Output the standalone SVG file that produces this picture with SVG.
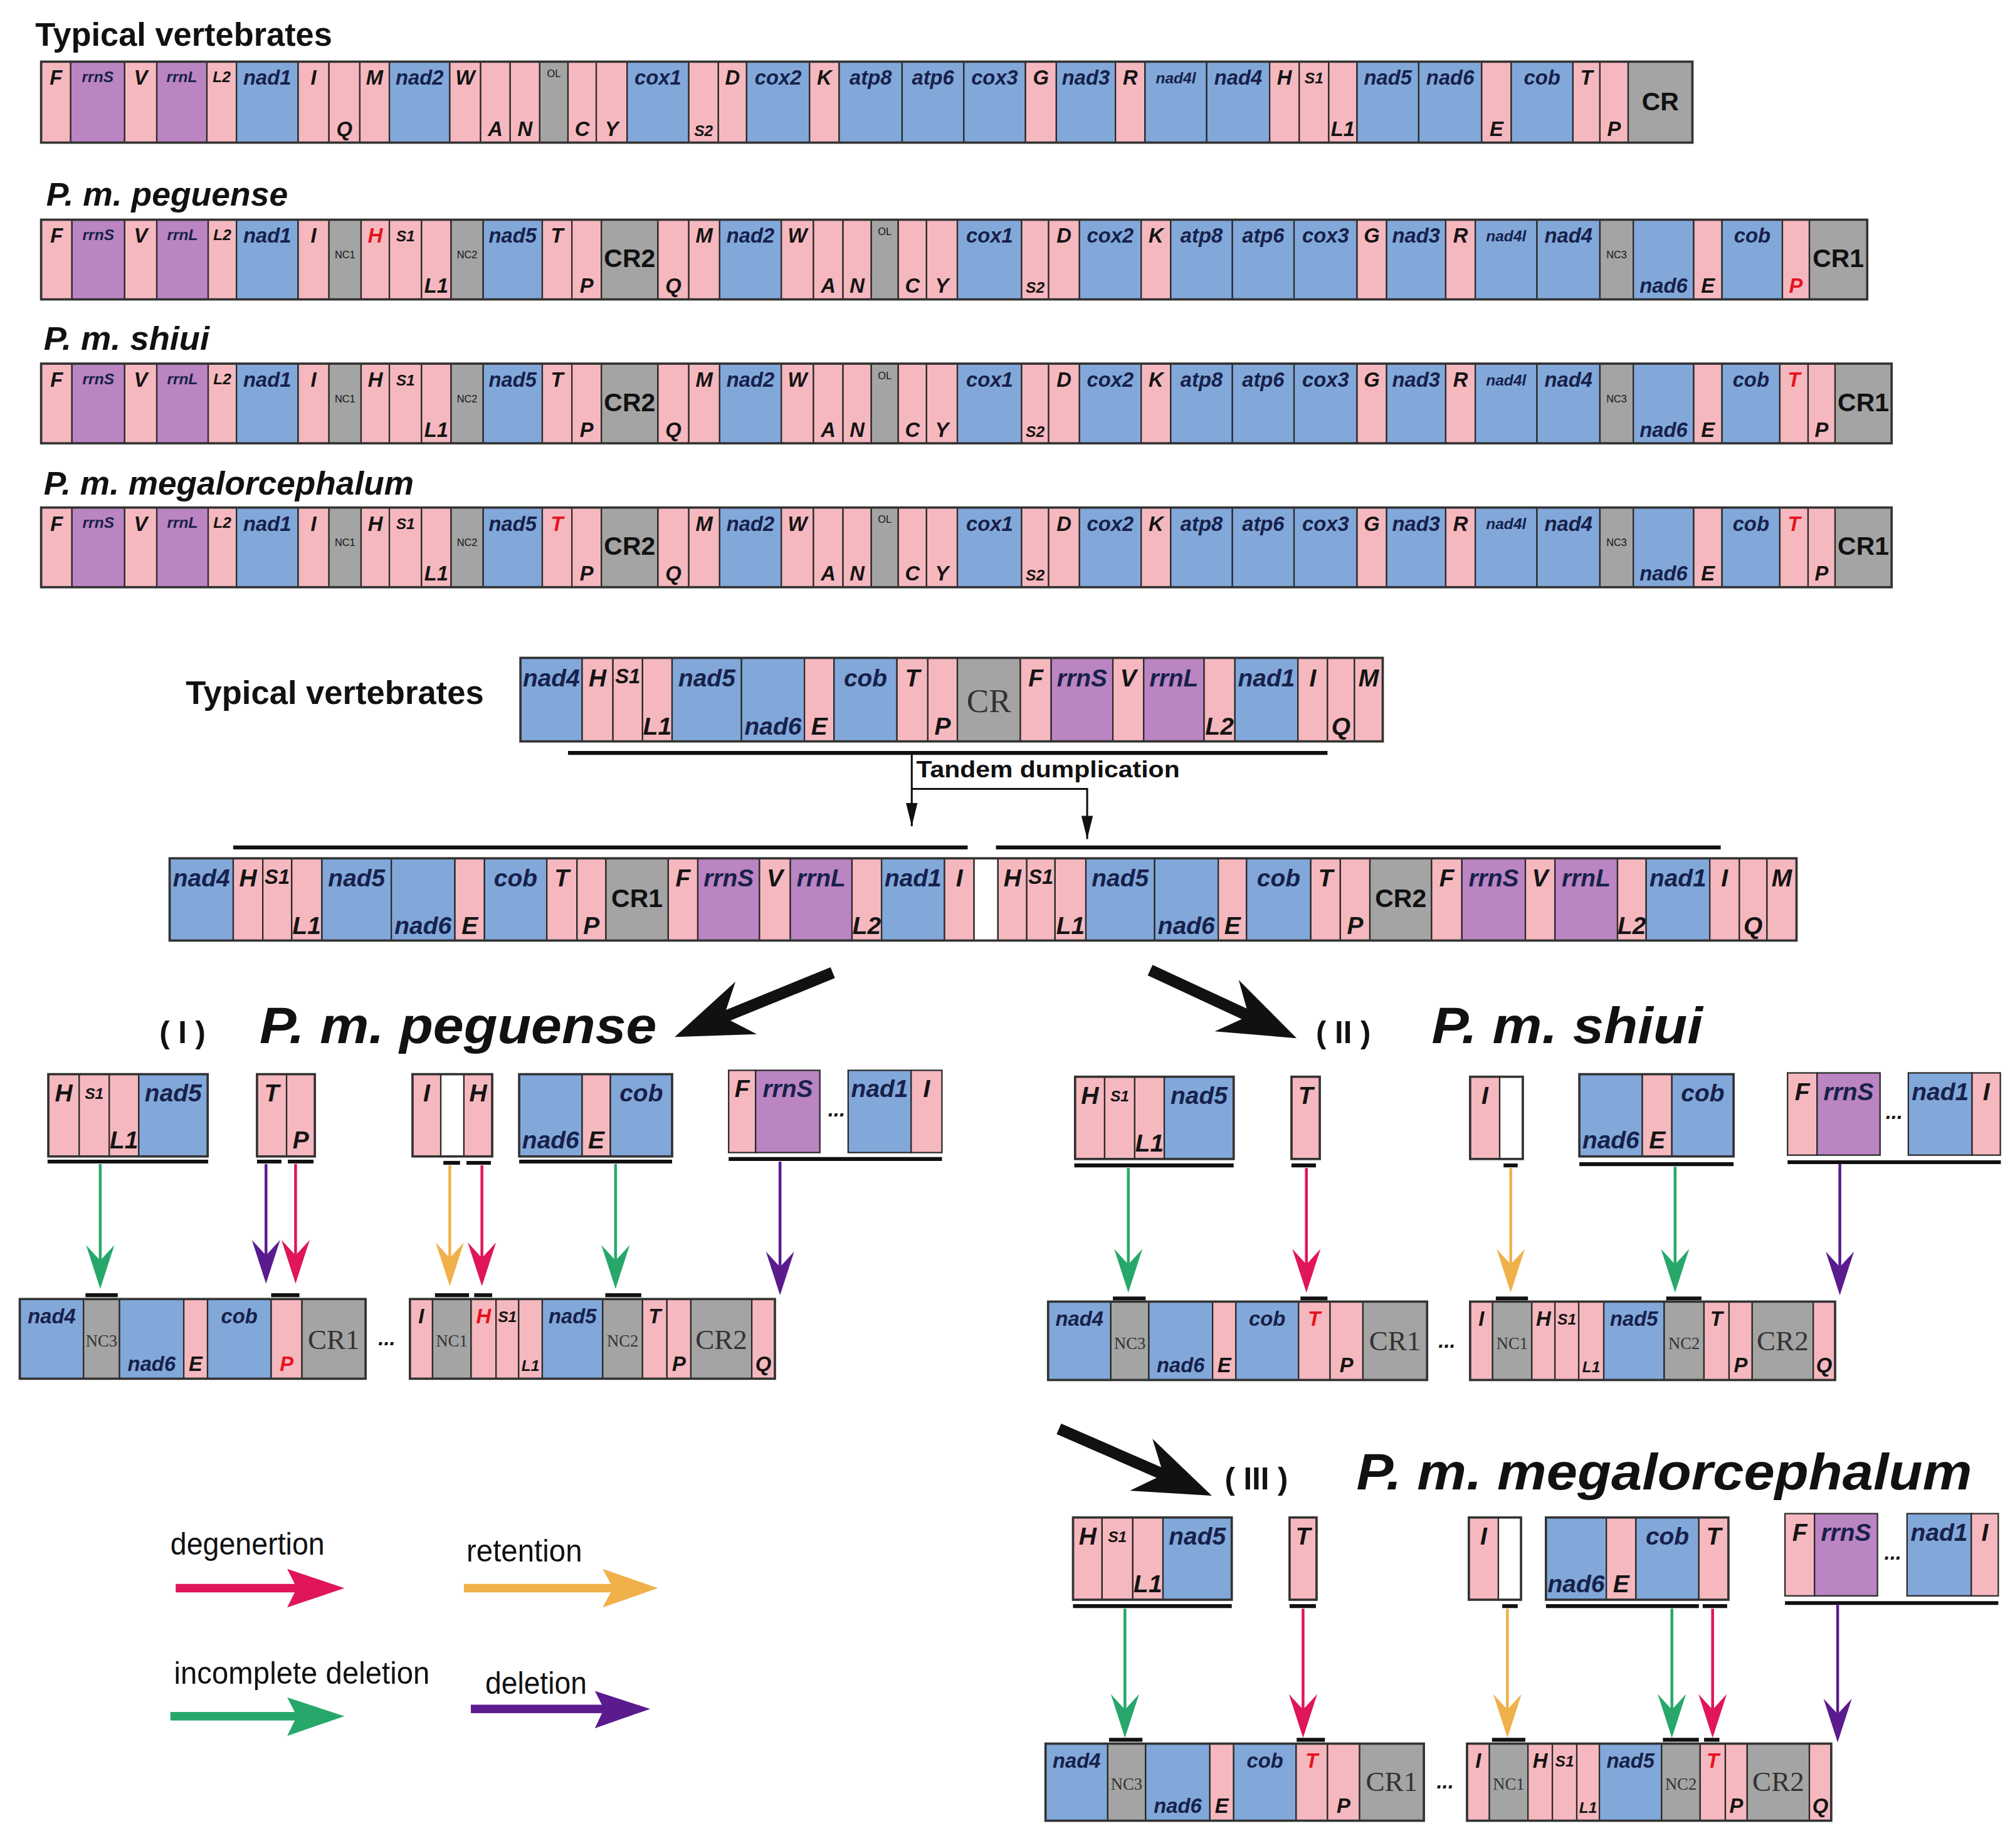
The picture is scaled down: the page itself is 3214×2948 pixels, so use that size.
<svg xmlns="http://www.w3.org/2000/svg" width="3214" height="2948" viewBox="0 0 3214 2948">
<style>
rect{stroke:#2a2a2a;stroke-width:1.1}
.p{fill:#f6b8bf}.b{fill:#82a8da}.v{fill:#bb84c3}.g{fill:#a4a4a4}.w{fill:#fff}
.o{fill:none;stroke:#333;stroke-width:1.8}
text{font-family:"Liberation Sans",Arial,sans-serif}
.t{font-size:16px;font-weight:bold;font-style:italic;fill:#141414;text-anchor:middle}
.gn{fill:#17214a}
.sm{font-size:12px}
.tn{font-size:8px;font-style:normal;font-weight:normal}
.r{fill:#e5141e}
.k{font-size:20px;font-weight:bold;font-style:normal;fill:#111;text-anchor:middle}
.sf{font-family:"Liberation Serif","Times New Roman",serif;font-weight:normal;font-style:normal;fill:#333;text-anchor:middle}
.big{font-size:19px}
.hd{font-weight:bold;fill:#111}
.lg{font-size:24px;fill:#111}
.ul{stroke:#111;stroke-width:3}
.bk{stroke:#111;stroke-width:1.5;fill:none}
.ag{stroke:#27a86a;stroke-width:2.2}
.ar{stroke:#e0155a;stroke-width:2.2}
.ap{stroke:#5b1b8e;stroke-width:2.2}
.ao{stroke:#f0b04a;stroke-width:2.2}
</style>
<defs>
<marker id="mg" viewBox="-26 -13 38 26" markerWidth="38" markerHeight="26" refX="0" refY="0" orient="auto" markerUnits="userSpaceOnUse"><path d="M10,0 L-24,-11 L-12,0 L-24,11 Z" fill="#27a86a"/></marker>
<marker id="mr" viewBox="-26 -13 38 26" markerWidth="38" markerHeight="26" refX="0" refY="0" orient="auto" markerUnits="userSpaceOnUse"><path d="M10,0 L-24,-11 L-12,0 L-24,11 Z" fill="#e0155a"/></marker>
<marker id="mp" viewBox="-26 -13 38 26" markerWidth="38" markerHeight="26" refX="0" refY="0" orient="auto" markerUnits="userSpaceOnUse"><path d="M10,0 L-24,-11 L-12,0 L-24,11 Z" fill="#5b1b8e"/></marker>
<marker id="mo" viewBox="-26 -13 38 26" markerWidth="38" markerHeight="26" refX="0" refY="0" orient="auto" markerUnits="userSpaceOnUse"><path d="M10,0 L-24,-11 L-12,0 L-24,11 Z" fill="#f0b04a"/></marker>
<marker id="mk" viewBox="-20 -6 22 12" markerWidth="22" markerHeight="12" refX="0" refY="0" orient="auto" markerUnits="userSpaceOnUse"><path d="M0,0 L-18,-4.5 L-18,4.5 Z" fill="#111"/></marker>
</defs>
<rect x="0" y="0" width="3214" height="2948" style="fill:#fff;stroke:none"/>
<g transform="scale(2.04974)">

<!-- titles -->
<g id="titles">
<text class="hd" x="27.5" y="35.8" font-size="25" textLength="231" lengthAdjust="spacingAndGlyphs">Typical vertebrates</text>
<text class="hd" x="36" y="160" font-size="25" font-style="italic" textLength="188" lengthAdjust="spacingAndGlyphs">P. m. peguense</text>
<text class="hd" x="34" y="272" font-size="25" font-style="italic" textLength="129" lengthAdjust="spacingAndGlyphs">P. m. shiui</text>
<text class="hd" x="34" y="385" font-size="25" font-style="italic" textLength="288" lengthAdjust="spacingAndGlyphs">P. m. megalorcephalum</text>
<text class="hd" x="144.5" y="548" font-size="25" textLength="232" lengthAdjust="spacingAndGlyphs">Typical vertebrates</text>
</g>

<!-- Row 1 typical -->
<g id="row1" transform="translate(0,48)">
<rect class="p" x="32" width="23" height="63"/><text class="t" x="43.5" y="18">F</text>
<rect class="v" x="55" width="42" height="63"/><text class="t sm gn" x="76" y="16">rrnS</text>
<rect class="p" x="97" width="25" height="63"/><text class="t" x="109.5" y="18">V</text>
<rect class="v" x="122" width="39" height="63"/><text class="t sm gn" x="141.5" y="16">rrnL</text>
<rect class="p" x="161" width="23" height="63"/><text class="t sm" x="172.5" y="16">L2</text>
<rect class="b" x="184" width="48" height="63"/><text class="t gn" x="208" y="18">nad1</text>
<rect class="p" x="232" width="24" height="63"/><text class="t" x="244" y="18">I</text>
<rect class="p" x="256" width="24" height="63"/><text class="t" x="268" y="58">Q</text>
<rect class="p" x="280" width="23" height="63"/><text class="t" x="291.5" y="18">M</text>
<rect class="b" x="303" width="47" height="63"/><text class="t gn" x="326.5" y="18">nad2</text>
<rect class="p" x="350" width="24" height="63"/><text class="t" x="362" y="18">W</text>
<rect class="p" x="374" width="23" height="63"/><text class="t" x="385.5" y="58">A</text>
<rect class="p" x="397" width="23" height="63"/><text class="t" x="408.5" y="58">N</text>
<rect class="g" x="420" width="22" height="63"/><text class="t tn" x="431" y="12">OL</text>
<rect class="p" x="442" width="22" height="63"/><text class="t" x="453" y="58">C</text>
<rect class="p" x="464" width="24" height="63"/><text class="t" x="476" y="58">Y</text>
<rect class="b" x="488" width="48" height="63"/><text class="t gn" x="512" y="18">cox1</text>
<rect class="p" x="536" width="23" height="63"/><text class="t sm" x="547.5" y="58">S2</text>
<rect class="p" x="559" width="22" height="63"/><text class="t" x="570" y="18">D</text>
<rect class="b" x="581" width="49" height="63"/><text class="t gn" x="605.5" y="18">cox2</text>
<rect class="p" x="630" width="23" height="63"/><text class="t" x="641.5" y="18">K</text>
<rect class="b" x="653" width="49" height="63"/><text class="t gn" x="677.5" y="18">atp8</text>
<rect class="b" x="702" width="48" height="63"/><text class="t gn" x="726" y="18">atp6</text>
<rect class="b" x="750" width="48" height="63"/><text class="t gn" x="774" y="18">cox3</text>
<rect class="p" x="798" width="24" height="63"/><text class="t" x="810" y="18">G</text>
<rect class="b" x="822" width="46" height="63"/><text class="t gn" x="845" y="18">nad3</text>
<rect class="p" x="868" width="23" height="63"/><text class="t" x="879.5" y="18">R</text>
<rect class="b" x="891" width="48" height="63"/><text class="t gn sm" x="915" y="17">nad4l</text>
<rect class="b" x="939" width="49" height="63"/><text class="t gn" x="963.5" y="18">nad4</text>
<rect class="p" x="988" width="23" height="63"/><text class="t" x="999.5" y="18">H</text>
<rect class="p" x="1011" width="23" height="63"/><text class="t sm" x="1022.5" y="17">S1</text>
<rect class="p" x="1034" width="22" height="63"/><text class="t" x="1045" y="58">L1</text>
<rect class="b" x="1056" width="48" height="63"/><text class="t gn" x="1080" y="18">nad5</text>
<rect class="b" x="1104" width="49" height="63"/><text class="t gn" x="1128.5" y="18">nad6</text>
<rect class="p" x="1153" width="23" height="63"/><text class="t" x="1164.5" y="58">E</text>
<rect class="b" x="1176" width="48" height="63"/><text class="t gn" x="1200" y="18">cob</text>
<rect class="p" x="1224" width="21" height="63"/><text class="t" x="1234.5" y="18">T</text>
<rect class="p" x="1245" width="22" height="63"/><text class="t" x="1256" y="58">P</text>
<rect class="g" x="1267" width="50" height="63"/><text class="k" x="1292" y="38">CR</text>
<rect class="o" x="32" width="1285" height="63"/>
</g>

<!-- Row 2 peguense -->
<g id="row2" transform="translate(0,171)">
<rect class="p" x="32" width="24" height="62"/><text class="t" x="44" y="18">F</text>
<rect class="v" x="56" width="41" height="62"/><text class="t sm gn" x="76.5" y="16">rrnS</text>
<rect class="p" x="97" width="25" height="62"/><text class="t" x="109.5" y="18">V</text>
<rect class="v" x="122" width="40" height="62"/><text class="t sm gn" x="142" y="16">rrnL</text>
<rect class="p" x="162" width="22" height="62"/><text class="t sm" x="173" y="16">L2</text>
<rect class="b" x="184" width="48" height="62"/><text class="t gn" x="208" y="18">nad1</text>
<rect class="p" x="232" width="24" height="62"/><text class="t" x="244" y="18">I</text>
<rect class="g" x="256" width="25" height="62"/><text class="t tn" x="268.5" y="30">NC1</text>
<rect class="p" x="281" width="22" height="62"/><text class="t r" x="292" y="18">H</text>
<rect class="p" x="303" width="25" height="62"/><text class="t sm" x="315.5" y="17">S1</text>
<rect class="p" x="328" width="23" height="62"/><text class="t" x="339.5" y="57">L1</text>
<rect class="g" x="351" width="25" height="62"/><text class="t tn" x="363.5" y="30">NC2</text>
<rect class="b" x="376" width="46" height="62"/><text class="t gn" x="399" y="18">nad5</text>
<rect class="p" x="422" width="23" height="62"/><text class="t" x="433.5" y="18">T</text>
<rect class="p" x="445" width="23" height="62"/><text class="t" x="456.5" y="57">P</text>
<rect class="g" x="468" width="44" height="62"/><text class="k" x="490" y="37">CR2</text>
<rect class="p" x="512" width="24" height="62"/><text class="t" x="524" y="57">Q</text>
<rect class="p" x="536" width="24" height="62"/><text class="t" x="548" y="18">M</text>
<rect class="b" x="560" width="48" height="62"/><text class="t gn" x="584" y="18">nad2</text>
<rect class="p" x="608" width="25" height="62"/><text class="t" x="620.5" y="18">W</text>
<rect class="p" x="633" width="23" height="62"/><text class="t" x="644.5" y="57">A</text>
<rect class="p" x="656" width="22" height="62"/><text class="t" x="667" y="57">N</text>
<rect class="g" x="678" width="21" height="62"/><text class="t tn" x="688.5" y="12">OL</text>
<rect class="p" x="699" width="22" height="62"/><text class="t" x="710" y="57">C</text>
<rect class="p" x="721" width="24" height="62"/><text class="t" x="733" y="57">Y</text>
<rect class="b" x="745" width="50" height="62"/><text class="t gn" x="770" y="18">cox1</text>
<rect class="p" x="795" width="21" height="62"/><text class="t sm" x="805.5" y="57">S2</text>
<rect class="p" x="816" width="24" height="62"/><text class="t" x="828" y="18">D</text>
<rect class="b" x="840" width="48" height="62"/><text class="t gn" x="864" y="18">cox2</text>
<rect class="p" x="888" width="23" height="62"/><text class="t" x="899.5" y="18">K</text>
<rect class="b" x="911" width="48" height="62"/><text class="t gn" x="935" y="18">atp8</text>
<rect class="b" x="959" width="48" height="62"/><text class="t gn" x="983" y="18">atp6</text>
<rect class="b" x="1007" width="49" height="62"/><text class="t gn" x="1031.5" y="18">cox3</text>
<rect class="p" x="1056" width="23" height="62"/><text class="t" x="1067.5" y="18">G</text>
<rect class="b" x="1079" width="46" height="62"/><text class="t gn" x="1102" y="18">nad3</text>
<rect class="p" x="1125" width="23" height="62"/><text class="t" x="1136.5" y="18">R</text>
<rect class="b" x="1148" width="48" height="62"/><text class="t gn sm" x="1172" y="17">nad4l</text>
<rect class="b" x="1196" width="49" height="62"/><text class="t gn" x="1220.5" y="18">nad4</text>
<rect class="g" x="1245" width="26" height="62"/><text class="t tn" x="1258" y="30">NC3</text>
<rect class="b" x="1271" width="47" height="62"/><text class="t gn" x="1294.5" y="57">nad6</text>
<rect class="p" x="1318" width="22" height="62"/><text class="t" x="1329" y="57">E</text>
<rect class="b" x="1340" width="47" height="62"/><text class="t gn" x="1363.5" y="18">cob</text>
<rect class="p" x="1387" width="21" height="62"/><text class="t r" x="1397.5" y="57">P</text>
<rect class="g" x="1408" width="45" height="62"/><text class="k" x="1430.5" y="37">CR1</text>
<rect class="o" x="32" width="1421" height="62"/>
</g>

<!-- Row 3 shiui -->
<g id="row3" transform="translate(0,283)">
<rect class="p" x="32" width="24" height="62"/><text class="t" x="44" y="18">F</text>
<rect class="v" x="56" width="41" height="62"/><text class="t sm gn" x="76.5" y="16">rrnS</text>
<rect class="p" x="97" width="25" height="62"/><text class="t" x="109.5" y="18">V</text>
<rect class="v" x="122" width="40" height="62"/><text class="t sm gn" x="142" y="16">rrnL</text>
<rect class="p" x="162" width="22" height="62"/><text class="t sm" x="173" y="16">L2</text>
<rect class="b" x="184" width="48" height="62"/><text class="t gn" x="208" y="18">nad1</text>
<rect class="p" x="232" width="24" height="62"/><text class="t" x="244" y="18">I</text>
<rect class="g" x="256" width="25" height="62"/><text class="t tn" x="268.5" y="30">NC1</text>
<rect class="p" x="281" width="22" height="62"/><text class="t" x="292" y="18">H</text>
<rect class="p" x="303" width="25" height="62"/><text class="t sm" x="315.5" y="17">S1</text>
<rect class="p" x="328" width="23" height="62"/><text class="t" x="339.5" y="57">L1</text>
<rect class="g" x="351" width="25" height="62"/><text class="t tn" x="363.5" y="30">NC2</text>
<rect class="b" x="376" width="46" height="62"/><text class="t gn" x="399" y="18">nad5</text>
<rect class="p" x="422" width="23" height="62"/><text class="t" x="433.5" y="18">T</text>
<rect class="p" x="445" width="23" height="62"/><text class="t" x="456.5" y="57">P</text>
<rect class="g" x="468" width="44" height="62"/><text class="k" x="490" y="37">CR2</text>
<rect class="p" x="512" width="24" height="62"/><text class="t" x="524" y="57">Q</text>
<rect class="p" x="536" width="24" height="62"/><text class="t" x="548" y="18">M</text>
<rect class="b" x="560" width="48" height="62"/><text class="t gn" x="584" y="18">nad2</text>
<rect class="p" x="608" width="25" height="62"/><text class="t" x="620.5" y="18">W</text>
<rect class="p" x="633" width="23" height="62"/><text class="t" x="644.5" y="57">A</text>
<rect class="p" x="656" width="22" height="62"/><text class="t" x="667" y="57">N</text>
<rect class="g" x="678" width="21" height="62"/><text class="t tn" x="688.5" y="12">OL</text>
<rect class="p" x="699" width="22" height="62"/><text class="t" x="710" y="57">C</text>
<rect class="p" x="721" width="24" height="62"/><text class="t" x="733" y="57">Y</text>
<rect class="b" x="745" width="50" height="62"/><text class="t gn" x="770" y="18">cox1</text>
<rect class="p" x="795" width="21" height="62"/><text class="t sm" x="805.5" y="57">S2</text>
<rect class="p" x="816" width="24" height="62"/><text class="t" x="828" y="18">D</text>
<rect class="b" x="840" width="48" height="62"/><text class="t gn" x="864" y="18">cox2</text>
<rect class="p" x="888" width="23" height="62"/><text class="t" x="899.5" y="18">K</text>
<rect class="b" x="911" width="48" height="62"/><text class="t gn" x="935" y="18">atp8</text>
<rect class="b" x="959" width="48" height="62"/><text class="t gn" x="983" y="18">atp6</text>
<rect class="b" x="1007" width="49" height="62"/><text class="t gn" x="1031.5" y="18">cox3</text>
<rect class="p" x="1056" width="23" height="62"/><text class="t" x="1067.5" y="18">G</text>
<rect class="b" x="1079" width="46" height="62"/><text class="t gn" x="1102" y="18">nad3</text>
<rect class="p" x="1125" width="23" height="62"/><text class="t" x="1136.5" y="18">R</text>
<rect class="b" x="1148" width="48" height="62"/><text class="t gn sm" x="1172" y="17">nad4l</text>
<rect class="b" x="1196" width="49" height="62"/><text class="t gn" x="1220.5" y="18">nad4</text>
<rect class="g" x="1245" width="26" height="62"/><text class="t tn" x="1258" y="30">NC3</text>
<rect class="b" x="1271" width="47" height="62"/><text class="t gn" x="1294.5" y="57">nad6</text>
<rect class="p" x="1318" width="22" height="62"/><text class="t" x="1329" y="57">E</text>
<rect class="b" x="1340" width="45" height="62"/><text class="t gn" x="1362.5" y="18">cob</text>
<rect class="p" x="1385" width="22" height="62"/><text class="t r" x="1396" y="18">T</text>
<rect class="p" x="1407" width="21" height="62"/><text class="t" x="1417.5" y="57">P</text>
<rect class="g" x="1428" width="44" height="62"/><text class="k" x="1450" y="37">CR1</text>
<rect class="o" x="32" width="1440" height="62"/>
</g>

<!-- Row 4 megalorcephalum -->
<g id="row4" transform="translate(0,395)">
<rect class="p" x="32" width="24" height="62"/><text class="t" x="44" y="18">F</text>
<rect class="v" x="56" width="41" height="62"/><text class="t sm gn" x="76.5" y="16">rrnS</text>
<rect class="p" x="97" width="25" height="62"/><text class="t" x="109.5" y="18">V</text>
<rect class="v" x="122" width="40" height="62"/><text class="t sm gn" x="142" y="16">rrnL</text>
<rect class="p" x="162" width="22" height="62"/><text class="t sm" x="173" y="16">L2</text>
<rect class="b" x="184" width="48" height="62"/><text class="t gn" x="208" y="18">nad1</text>
<rect class="p" x="232" width="24" height="62"/><text class="t" x="244" y="18">I</text>
<rect class="g" x="256" width="25" height="62"/><text class="t tn" x="268.5" y="30">NC1</text>
<rect class="p" x="281" width="22" height="62"/><text class="t" x="292" y="18">H</text>
<rect class="p" x="303" width="25" height="62"/><text class="t sm" x="315.5" y="17">S1</text>
<rect class="p" x="328" width="23" height="62"/><text class="t" x="339.5" y="57">L1</text>
<rect class="g" x="351" width="25" height="62"/><text class="t tn" x="363.5" y="30">NC2</text>
<rect class="b" x="376" width="46" height="62"/><text class="t gn" x="399" y="18">nad5</text>
<rect class="p" x="422" width="23" height="62"/><text class="t r" x="433.5" y="18">T</text>
<rect class="p" x="445" width="23" height="62"/><text class="t" x="456.5" y="57">P</text>
<rect class="g" x="468" width="44" height="62"/><text class="k" x="490" y="37">CR2</text>
<rect class="p" x="512" width="24" height="62"/><text class="t" x="524" y="57">Q</text>
<rect class="p" x="536" width="24" height="62"/><text class="t" x="548" y="18">M</text>
<rect class="b" x="560" width="48" height="62"/><text class="t gn" x="584" y="18">nad2</text>
<rect class="p" x="608" width="25" height="62"/><text class="t" x="620.5" y="18">W</text>
<rect class="p" x="633" width="23" height="62"/><text class="t" x="644.5" y="57">A</text>
<rect class="p" x="656" width="22" height="62"/><text class="t" x="667" y="57">N</text>
<rect class="g" x="678" width="21" height="62"/><text class="t tn" x="688.5" y="12">OL</text>
<rect class="p" x="699" width="22" height="62"/><text class="t" x="710" y="57">C</text>
<rect class="p" x="721" width="24" height="62"/><text class="t" x="733" y="57">Y</text>
<rect class="b" x="745" width="50" height="62"/><text class="t gn" x="770" y="18">cox1</text>
<rect class="p" x="795" width="21" height="62"/><text class="t sm" x="805.5" y="57">S2</text>
<rect class="p" x="816" width="24" height="62"/><text class="t" x="828" y="18">D</text>
<rect class="b" x="840" width="48" height="62"/><text class="t gn" x="864" y="18">cox2</text>
<rect class="p" x="888" width="23" height="62"/><text class="t" x="899.5" y="18">K</text>
<rect class="b" x="911" width="48" height="62"/><text class="t gn" x="935" y="18">atp8</text>
<rect class="b" x="959" width="48" height="62"/><text class="t gn" x="983" y="18">atp6</text>
<rect class="b" x="1007" width="49" height="62"/><text class="t gn" x="1031.5" y="18">cox3</text>
<rect class="p" x="1056" width="23" height="62"/><text class="t" x="1067.5" y="18">G</text>
<rect class="b" x="1079" width="46" height="62"/><text class="t gn" x="1102" y="18">nad3</text>
<rect class="p" x="1125" width="23" height="62"/><text class="t" x="1136.5" y="18">R</text>
<rect class="b" x="1148" width="48" height="62"/><text class="t gn sm" x="1172" y="17">nad4l</text>
<rect class="b" x="1196" width="49" height="62"/><text class="t gn" x="1220.5" y="18">nad4</text>
<rect class="g" x="1245" width="26" height="62"/><text class="t tn" x="1258" y="30">NC3</text>
<rect class="b" x="1271" width="47" height="62"/><text class="t gn" x="1294.5" y="57">nad6</text>
<rect class="p" x="1318" width="22" height="62"/><text class="t" x="1329" y="57">E</text>
<rect class="b" x="1340" width="45" height="62"/><text class="t gn" x="1362.5" y="18">cob</text>
<rect class="p" x="1385" width="22" height="62"/><text class="t r" x="1396" y="18">T</text>
<rect class="p" x="1407" width="21" height="62"/><text class="t" x="1417.5" y="57">P</text>
<rect class="g" x="1428" width="44" height="62"/><text class="k" x="1450" y="37">CR1</text>
<rect class="o" x="32" width="1440" height="62"/>
</g>

<!-- Middle typical -->
<g id="typical2" transform="translate(0,512)">
<rect class="b" x="405" width="48" height="65"/><text class="t gn big" x="429" y="22">nad4</text>
<rect class="p" x="453" width="24" height="65"/><text class="t big" x="465" y="22">H</text>
<rect class="p" x="477" width="23" height="65"/><text class="t" x="488.5" y="20">S1</text>
<rect class="p" x="500" width="23" height="65"/><text class="t big" x="511.5" y="60">L1</text>
<rect class="b" x="523" width="54" height="65"/><text class="t gn big" x="550" y="22">nad5</text>
<rect class="b" x="577" width="49" height="65"/><text class="t gn big" x="601.5" y="60">nad6</text>
<rect class="p" x="626" width="23" height="65"/><text class="t big" x="637.5" y="60">E</text>
<rect class="b" x="649" width="49" height="65"/><text class="t gn big" x="673.5" y="22">cob</text>
<rect class="p" x="698" width="24" height="65"/><text class="t big" x="710" y="22">T</text>
<rect class="p" x="722" width="23" height="65"/><text class="t big" x="733.5" y="60">P</text>
<rect class="g" x="745" width="49" height="65"/><text class="sf" x="769.5" y="42" font-size="26">CR</text>
<rect class="p" x="794" width="24" height="65"/><text class="t big" x="806" y="22">F</text>
<rect class="v" x="818" width="48" height="65"/><text class="t gn big" x="842" y="22">rrnS</text>
<rect class="p" x="866" width="24" height="65"/><text class="t big" x="878" y="22">V</text>
<rect class="v" x="890" width="47" height="65"/><text class="t gn big" x="913.5" y="22">rrnL</text>
<rect class="p" x="937" width="24" height="65"/><text class="t big" x="949" y="60">L2</text>
<rect class="b" x="961" width="49" height="65"/><text class="t gn big" x="985.5" y="22">nad1</text>
<rect class="p" x="1010" width="23" height="65"/><text class="t big" x="1021.5" y="22">I</text>
<rect class="p" x="1033" width="21" height="65"/><text class="t big" x="1043.5" y="60">Q</text>
<rect class="p" x="1054" width="22" height="65"/><text class="t big" x="1065" y="22">M</text>
<rect class="o" x="405" width="671" height="65"/>
</g>

<!-- Duplicated -->
<g id="duplicated" transform="translate(0,668)">
<rect class="b" x="132" width="49.5" height="64"/><text class="t gn big" x="156.7" y="22">nad4</text>
<rect class="p" x="181.5" width="23" height="64"/><text class="t big" x="193" y="22">H</text>
<rect class="p" x="204.5" width="22.5" height="64"/><text class="t" x="215.7" y="20">S1</text>
<rect class="p" x="227" width="23.5" height="64"/><text class="t big" x="238.7" y="59">L1</text>
<rect class="b" x="250.5" width="54" height="64"/><text class="t gn big" x="277.5" y="22">nad5</text>
<rect class="b" x="304.5" width="49.5" height="64"/><text class="t gn big" x="329.2" y="59">nad6</text>
<rect class="p" x="354" width="23" height="64"/><text class="t big" x="365.5" y="59">E</text>
<rect class="b" x="377" width="48.5" height="64"/><text class="t gn big" x="401.2" y="22">cob</text>
<rect class="p" x="425.5" width="23.5" height="64"/><text class="t big" x="437.2" y="22">T</text>
<rect class="p" x="449" width="22.5" height="64"/><text class="t big" x="460.2" y="59">P</text>
<rect class="g" x="471.5" width="48.5" height="64"/><text class="k" x="495.7" y="38">CR1</text>
<rect class="p" x="520" width="23" height="64"/><text class="t big" x="531.5" y="22">F</text>
<rect class="v" x="543" width="48" height="64"/><text class="t gn big" x="567" y="22">rrnS</text>
<rect class="p" x="591" width="24" height="64"/><text class="t big" x="603" y="22">V</text>
<rect class="v" x="615" width="48" height="64"/><text class="t gn big" x="639" y="22">rrnL</text>
<rect class="p" x="663" width="23" height="64"/><text class="t big" x="674.5" y="59">L2</text>
<rect class="b" x="686" width="49" height="64"/><text class="t gn big" x="710.5" y="22">nad1</text>
<rect class="p" x="735" width="23" height="64"/><text class="t big" x="746.5" y="22">I</text>
<rect class="w" x="758" width="18.6" height="64"/>
<rect class="p" x="776.6" width="22.4" height="64"/><text class="t big" x="787.8" y="22">H</text>
<rect class="p" x="799" width="22" height="64"/><text class="t" x="810" y="20">S1</text>
<rect class="p" x="821" width="24" height="64"/><text class="t big" x="833" y="59">L1</text>
<rect class="b" x="845" width="53.5" height="64"/><text class="t gn big" x="871.7" y="22">nad5</text>
<rect class="b" x="898.5" width="49.5" height="64"/><text class="t gn big" x="923.2" y="59">nad6</text>
<rect class="p" x="948" width="22" height="64"/><text class="t big" x="959" y="59">E</text>
<rect class="b" x="970" width="50" height="64"/><text class="t gn big" x="995" y="22">cob</text>
<rect class="p" x="1020" width="23" height="64"/><text class="t big" x="1031.5" y="22">T</text>
<rect class="p" x="1043" width="23" height="64"/><text class="t big" x="1054.5" y="59">P</text>
<rect class="g" x="1066" width="48" height="64"/><text class="k" x="1090" y="38">CR2</text>
<rect class="p" x="1114" width="23.6" height="64"/><text class="t big" x="1125.8" y="22">F</text>
<rect class="v" x="1137.6" width="49.4" height="64"/><text class="t gn big" x="1162.3" y="22">rrnS</text>
<rect class="p" x="1187" width="23" height="64"/><text class="t big" x="1198.5" y="22">V</text>
<rect class="v" x="1210" width="48.7" height="64"/><text class="t gn big" x="1234.3" y="22">rrnL</text>
<rect class="p" x="1258.7" width="22.3" height="64"/><text class="t big" x="1269.8" y="59">L2</text>
<rect class="b" x="1281" width="49.5" height="64"/><text class="t gn big" x="1305.7" y="22">nad1</text>
<rect class="p" x="1330.5" width="23" height="64"/><text class="t big" x="1342" y="22">I</text>
<rect class="p" x="1353.5" width="21.5" height="64"/><text class="t big" x="1364.2" y="59">Q</text>
<rect class="p" x="1375" width="23" height="64"/><text class="t big" x="1386.5" y="22">M</text>
<rect class="o" x="132" width="1266" height="64"/>
</g>

<!-- Panel I -->
<g id="panel1-title">
<text class="lg" x="124" y="812" font-size="40" font-weight="bold">( I )</text>
<text x="202" y="812" font-size="40" font-weight="bold" font-style="italic" fill="#111" textLength="309" lengthAdjust="spacingAndGlyphs">P. m. peguense</text>
<polygon points="649.7,761.2 568.4,794.3 588.9,804.8 525,807 572.3,764 565,785.9 646.3,752.8" fill="#111"/>
</g>
<g id="p1-top" transform="translate(0,836)">
<rect class="p" x="37.6" width="24" height="64"/><text class="t big" x="49.6" y="21">H</text>
<rect class="p" x="61.6" width="23.4" height="64"/><text class="t sm" x="73.3" y="19">S1</text>
<rect class="p" x="85" width="23" height="64"/><text class="t big" x="96.5" y="58">L1</text>
<rect class="b" x="108" width="53.6" height="64"/><text class="t gn big" x="134.8" y="21">nad5</text>
<rect class="o" x="37.6" width="124" height="64"/>
<rect class="p" x="200" width="23" height="64"/><text class="t big" x="211.5" y="21">T</text>
<rect class="p" x="223" width="22" height="64"/><text class="t big" x="234" y="58">P</text>
<rect class="o" x="200" width="45" height="64"/>
<rect class="p" x="321" width="22" height="64"/><text class="t big" x="332" y="21">I</text>
<rect class="w" x="343" width="18" height="64"/>
<rect class="p" x="361" width="22" height="64"/><text class="t big" x="372" y="21">H</text>
<rect class="o" x="321" width="62" height="64"/>
<rect class="b" x="404" width="49" height="64"/><text class="t gn big" x="428.5" y="58">nad6</text>
<rect class="p" x="453" width="22" height="64"/><text class="t big" x="464" y="58">E</text>
<rect class="b" x="475" width="48" height="64"/><text class="t gn big" x="499" y="21">cob</text>
<rect class="o" x="404" width="119" height="64"/>
</g>
<g id="p1-top5" transform="translate(0,833)">
<rect class="p" x="567" width="21" height="64"/><text class="t big" x="577.5" y="21">F</text>
<rect class="v" x="588" width="50" height="64"/><text class="t gn big" x="613" y="21">rrnS</text>
<text class="t" x="651" y="36" font-style="normal">...</text>
<rect class="b" x="660" width="49" height="64"/><text class="t gn big" x="684.5" y="21">nad1</text>
<rect class="p" x="709" width="24" height="64"/><text class="t big" x="721" y="21">I</text>
</g>
<g id="p1-bottom" transform="translate(0,1011)">
<rect class="b" x="15.4" width="49.6" height="62"/><text class="t gn" x="40.2" y="19">nad4</text>
<rect class="g" x="65" width="28" height="62"/><text class="sf" x="79" y="37" font-size="13">NC3</text>
<rect class="b" x="93" width="50" height="62"/><text class="t gn" x="118" y="56">nad6</text>
<rect class="p" x="143" width="18.5" height="62"/><text class="t" x="152.2" y="56">E</text>
<rect class="b" x="161.5" width="49.5" height="62"/><text class="t gn" x="186.2" y="19">cob</text>
<rect class="p" x="211" width="24" height="62"/><text class="t r" x="223" y="56">P</text>
<rect class="g" x="235" width="49.5" height="62"/><text class="sf" x="259.7" y="39" font-size="22">CR1</text>
<rect class="o" x="15.4" width="269.1" height="62"/>
<text class="t" x="301" y="36" font-style="normal">...</text>
<rect class="p" x="319" width="17.6" height="62"/><text class="t" x="327.8" y="19">I</text>
<rect class="g" x="336.6" width="30" height="62"/><text class="sf" x="351.6" y="37" font-size="13">NC1</text>
<rect class="p" x="366.6" width="19.4" height="62"/><text class="t r" x="376.3" y="19">H</text>
<rect class="p" x="386" width="17.6" height="62"/><text class="t sm" x="394.8" y="18">S1</text>
<rect class="p" x="403.6" width="18.4" height="62"/><text class="t sm" x="412.8" y="56">L1</text>
<rect class="b" x="422" width="47" height="62"/><text class="t gn" x="445.5" y="19">nad5</text>
<rect class="g" x="469" width="31" height="62"/><text class="sf" x="484.5" y="37" font-size="13">NC2</text>
<rect class="p" x="500" width="19" height="62"/><text class="t" x="509.5" y="19">T</text>
<rect class="p" x="519" width="18.6" height="62"/><text class="t" x="528.3" y="56">P</text>
<rect class="g" x="537.6" width="47.4" height="62"/><text class="sf" x="561.3" y="39" font-size="22">CR2</text>
<rect class="p" x="585" width="18" height="62"/><text class="t" x="594" y="56">Q</text>
<rect class="o" x="319" width="284" height="62"/>
</g>

<!-- Panel II -->
<g id="panel2-title">
<text class="lg" x="1024" y="812" font-size="40" font-weight="bold">( II )</text>
<text x="1114" y="812" font-size="40" font-weight="bold" font-style="italic" fill="#111" textLength="211" lengthAdjust="spacingAndGlyphs">P. m. shiui</text>
<polygon points="893.1,759.1 966.3,793.1 945.3,802.7 1009,808 963.9,762.7 970.1,784.9 896.9,750.9" fill="#111"/>
</g>
<g id="p2-top" transform="translate(0,838)">
<rect class="p" x="836.6" width="23" height="64"/><text class="t big" x="848.1" y="21">H</text>
<rect class="p" x="859.6" width="23.4" height="64"/><text class="t sm" x="871.3" y="19">S1</text>
<rect class="p" x="883" width="23" height="64"/><text class="t big" x="894.5" y="58">L1</text>
<rect class="b" x="906" width="54" height="64"/><text class="t gn big" x="933" y="21">nad5</text>
<rect class="o" x="836.6" width="123.4" height="64"/>
<rect class="p" x="1005" width="22" height="64"/><text class="t big" x="1016" y="21">T</text>
<rect class="o" x="1005" width="22" height="64"/>
<rect class="p" x="1144" width="23" height="64"/><text class="t big" x="1155.5" y="21">I</text>
<rect class="w" x="1167" width="18" height="64"/>
<rect class="o" x="1144" width="41" height="64"/>
</g>
<g id="p2-top4" transform="translate(0,836)">
<rect class="b" x="1229" width="49" height="64"/><text class="t gn big" x="1253.5" y="58">nad6</text>
<rect class="p" x="1278" width="23" height="64"/><text class="t big" x="1289.5" y="58">E</text>
<rect class="b" x="1301" width="48" height="64"/><text class="t gn big" x="1325" y="21">cob</text>
<rect class="o" x="1229" width="120" height="64"/>
</g>
<g id="p2-top5" transform="translate(0,835)">
<rect class="p" x="1391" width="23" height="64"/><text class="t big" x="1402.5" y="21">F</text>
<rect class="v" x="1414" width="49" height="64"/><text class="t gn big" x="1438.5" y="21">rrnS</text>
<text class="t" x="1474" y="36" font-style="normal">...</text>
<rect class="b" x="1485" width="49.6" height="64"/><text class="t gn big" x="1509.8" y="21">nad1</text>
<rect class="p" x="1534.6" width="22" height="64"/><text class="t big" x="1545.6" y="21">I</text>
</g>
<g id="p2-bottom" transform="translate(0,1013)">
<rect class="b" x="815.6" width="48.8" height="61"/><text class="t gn" x="840" y="19">nad4</text>
<rect class="g" x="864.4" width="29.6" height="61"/><text class="sf" x="879.2" y="37" font-size="13">NC3</text>
<rect class="b" x="894" width="49.6" height="61"/><text class="t gn" x="918.8" y="55">nad6</text>
<rect class="p" x="943.6" width="18.1" height="61"/><text class="t" x="952.6" y="55">E</text>
<rect class="b" x="961.7" width="48.8" height="61"/><text class="t gn" x="986.1" y="19">cob</text>
<rect class="p" x="1010.5" width="24.5" height="61"/><text class="t r" x="1022.7" y="19">T</text>
<rect class="p" x="1035" width="25.6" height="61"/><text class="t" x="1047.8" y="55">P</text>
<rect class="g" x="1060.6" width="49.9" height="61"/><text class="sf" x="1085.5" y="38" font-size="22">CR1</text>
<rect class="o" x="815.6" width="294.9" height="61"/>
<text class="t" x="1126" y="36" font-style="normal">...</text>
<rect class="p" x="1144" width="17.5" height="61"/><text class="t" x="1152.7" y="19">I</text>
<rect class="g" x="1161.5" width="30.5" height="61"/><text class="sf" x="1176.7" y="37" font-size="13">NC1</text>
<rect class="p" x="1192" width="18" height="61"/><text class="t" x="1201" y="19">H</text>
<rect class="p" x="1210" width="18.5" height="61"/><text class="t sm" x="1219.2" y="18">S1</text>
<rect class="p" x="1228.5" width="19.5" height="61"/><text class="t sm" x="1238.2" y="55">L1</text>
<rect class="b" x="1248" width="47" height="61"/><text class="t gn" x="1271.5" y="19">nad5</text>
<rect class="g" x="1295" width="31" height="61"/><text class="sf" x="1310.5" y="37" font-size="13">NC2</text>
<rect class="p" x="1326" width="19.5" height="61"/><text class="t" x="1335.7" y="19">T</text>
<rect class="p" x="1345.5" width="18" height="61"/><text class="t" x="1354.5" y="55">P</text>
<rect class="g" x="1363.5" width="47.5" height="61"/><text class="sf" x="1387.2" y="38" font-size="22">CR2</text>
<rect class="p" x="1411" width="17" height="61"/><text class="t" x="1419.5" y="55">Q</text>
<rect class="o" x="1144" width="284" height="61"/>
</g>

<!-- Panel III -->
<g id="panel3-title">
<text class="lg" x="953" y="1159" font-size="40" font-weight="bold">( III )</text>
<text x="1055.5" y="1159" font-size="40" font-weight="bold" font-style="italic" fill="#111" textLength="479" lengthAdjust="spacingAndGlyphs">P. m. megalorcephalum</text>
<polygon points="822.2,1116.1 900,1150.1 879.2,1160.2 943,1164 896.8,1119.8 903.6,1141.9 825.8,1107.9" fill="#111"/>
</g>
<g id="p3-top" transform="translate(0,1181)">
<rect class="p" x="835" width="22.6" height="64"/><text class="t big" x="846.3" y="21">H</text>
<rect class="p" x="857.6" width="23.9" height="64"/><text class="t sm" x="869.5" y="19">S1</text>
<rect class="p" x="881.5" width="23.5" height="64"/><text class="t big" x="893.2" y="58">L1</text>
<rect class="b" x="905" width="53.5" height="64"/><text class="t gn big" x="931.7" y="21">nad5</text>
<rect class="o" x="835" width="123.5" height="64"/>
<rect class="p" x="1003.5" width="21" height="64"/><text class="t big" x="1014" y="21">T</text>
<rect class="o" x="1003.5" width="21" height="64"/>
<rect class="p" x="1143" width="23" height="64"/><text class="t big" x="1154.5" y="21">I</text>
<rect class="w" x="1166" width="17.6" height="64"/>
<rect class="o" x="1143" width="40.6" height="64"/>
<rect class="b" x="1203" width="47" height="64"/><text class="t gn big" x="1226.5" y="58">nad6</text>
<rect class="p" x="1250" width="23" height="64"/><text class="t big" x="1261.5" y="58">E</text>
<rect class="b" x="1273" width="49" height="64"/><text class="t gn big" x="1297.5" y="21">cob</text>
<rect class="p" x="1322" width="23" height="64"/><text class="t big" x="1333.5" y="21">T</text>
<rect class="o" x="1203" width="142" height="64"/>
</g>
<g id="p3-top5" transform="translate(0,1178)">
<rect class="p" x="1389" width="23" height="64"/><text class="t big" x="1400.5" y="21">F</text>
<rect class="v" x="1412" width="49" height="64"/><text class="t gn big" x="1436.5" y="21">rrnS</text>
<text class="t" x="1473" y="36" font-style="normal">...</text>
<rect class="b" x="1484" width="50" height="64"/><text class="t gn big" x="1509" y="21">nad1</text>
<rect class="p" x="1534" width="21" height="64"/><text class="t big" x="1544.5" y="21">I</text>
</g>
<g id="p3-bottom" transform="translate(0,1357)">
<rect class="b" x="813.6" width="48.4" height="60"/><text class="t gn" x="837.8" y="19">nad4</text>
<rect class="g" x="862" width="29.5" height="60"/><text class="sf" x="876.7" y="36" font-size="13">NC3</text>
<rect class="b" x="891.5" width="50" height="60"/><text class="t gn" x="916.5" y="54">nad6</text>
<rect class="p" x="941.5" width="18.5" height="60"/><text class="t" x="950.7" y="54">E</text>
<rect class="b" x="960" width="48.6" height="60"/><text class="t gn" x="984.3" y="19">cob</text>
<rect class="p" x="1008.6" width="24.4" height="60"/><text class="t r" x="1020.8" y="19">T</text>
<rect class="p" x="1033" width="25" height="60"/><text class="t" x="1045.5" y="54">P</text>
<rect class="g" x="1058" width="50" height="60"/><text class="sf" x="1083" y="37" font-size="22">CR1</text>
<rect class="o" x="813.6" width="294.4" height="60"/>
<text class="t" x="1124.6" y="35" font-style="normal">...</text>
<rect class="p" x="1141.6" width="17.4" height="60"/><text class="t" x="1150.3" y="19">I</text>
<rect class="g" x="1159" width="30" height="60"/><text class="sf" x="1174" y="36" font-size="13">NC1</text>
<rect class="p" x="1189" width="19" height="60"/><text class="t" x="1198.5" y="19">H</text>
<rect class="p" x="1208" width="19" height="60"/><text class="t sm" x="1217.5" y="18">S1</text>
<rect class="p" x="1227" width="17.6" height="60"/><text class="t sm" x="1235.8" y="54">L1</text>
<rect class="b" x="1244.6" width="48.4" height="60"/><text class="t gn" x="1268.8" y="19">nad5</text>
<rect class="g" x="1293" width="30" height="60"/><text class="sf" x="1308" y="36" font-size="13">NC2</text>
<rect class="p" x="1323" width="19.6" height="60"/><text class="t r" x="1332.8" y="19">T</text>
<rect class="p" x="1342.6" width="17" height="60"/><text class="t" x="1351.1" y="54">P</text>
<rect class="g" x="1359.6" width="48.4" height="60"/><text class="sf" x="1383.8" y="37" font-size="22">CR2</text>
<rect class="p" x="1408" width="17" height="60"/><text class="t" x="1416.5" y="54">Q</text>
<rect class="o" x="1141.6" width="283.4" height="60"/>
</g>

<!-- Legend -->
<g id="legend">
<text class="lg" x="132.6" y="1210" textLength="120" lengthAdjust="spacingAndGlyphs">degenertion</text>
<text class="lg" x="363" y="1215.5" textLength="90" lengthAdjust="spacingAndGlyphs">retention</text>
<text class="lg" x="135.4" y="1310.6" textLength="199" lengthAdjust="spacingAndGlyphs">incomplete deletion</text>
<text class="lg" x="377.6" y="1318" textLength="79" lengthAdjust="spacingAndGlyphs">deletion</text>
<rect x="136.7" y="1232.7" width="95" height="6.6" style="fill:#e0155a;stroke:none"/>
<polygon points="223.5,1221 268,1236 223.5,1251 231,1236" fill="#e0155a"/>
<rect x="361" y="1232.7" width="116" height="6.6" style="fill:#f0b04a;stroke:none"/>
<polygon points="469,1221 512,1236 469,1251 477,1236" fill="#f0b04a"/>
<rect x="132.6" y="1332.4" width="99" height="6.6" style="fill:#27a86a;stroke:none"/>
<polygon points="223.5,1321 268,1335.7 223.5,1351 231,1335.7" fill="#27a86a"/>
<rect x="366.4" y="1326.7" width="105" height="6.6" style="fill:#5b1b8e;stroke:none"/>
<polygon points="462.9,1316 506,1330 462.9,1345 470,1330" fill="#5b1b8e"/>
</g>

<!-- Connectors -->
<g id="connectors">
<line class="ul" x1="442" y1="586" x2="1033" y2="586"/>
<path class="bk" d="M709.5,586 V643" marker-end="url(#mk)"/>
<path class="bk" d="M709.5,614 H846 V653" marker-end="url(#mk)"/>
<text x="713" y="605" font-size="18" font-weight="bold" fill="#111" textLength="205" lengthAdjust="spacingAndGlyphs">Tandem dumplication</text>
<line class="ul" x1="181.5" y1="659.5" x2="753" y2="659.5"/>
<line class="ul" x1="775" y1="659.5" x2="1339" y2="659.5"/>

<line class="ul" x1="37" y1="904" x2="162" y2="904"/>
<line class="ul" x1="200" y1="904" x2="219" y2="904"/>
<line class="ul" x1="224" y1="904" x2="244" y2="904"/>
<line class="ul" x1="345" y1="905" x2="358" y2="905"/>
<line class="ul" x1="363" y1="905" x2="382" y2="905"/>
<line class="ul" x1="404" y1="904" x2="523" y2="904"/>
<line class="ul" x1="567" y1="902" x2="733" y2="902"/>
<line class="ag" x1="78" y1="906" x2="78" y2="993" marker-end="url(#mg)"/>
<line class="ap" x1="207" y1="906" x2="207" y2="989" marker-end="url(#mp)"/>
<line class="ar" x1="230" y1="906" x2="230" y2="989" marker-end="url(#mr)"/>
<line class="ao" x1="350" y1="907" x2="350" y2="991" marker-end="url(#mo)"/>
<line class="ar" x1="375" y1="907" x2="375" y2="991" marker-end="url(#mr)"/>
<line class="ag" x1="479" y1="906" x2="479" y2="993" marker-end="url(#mg)"/>
<line class="ap" x1="607" y1="904" x2="607" y2="998" marker-end="url(#mp)"/>
<line class="ul" x1="66.5" y1="1008" x2="91.6" y2="1008"/>
<line class="ul" x1="211" y1="1008" x2="233" y2="1008"/>
<line class="ul" x1="338.5" y1="1008" x2="365" y2="1008"/>
<line class="ul" x1="369" y1="1008" x2="383" y2="1008"/>
<line class="ul" x1="471" y1="1008" x2="499" y2="1008"/>

<line class="ul" x1="836" y1="907" x2="960" y2="907"/>
<line class="ul" x1="1005" y1="907" x2="1024" y2="907"/>
<line class="ul" x1="1170" y1="907" x2="1181" y2="907"/>
<line class="ul" x1="1229" y1="906" x2="1349" y2="906"/>
<line class="ul" x1="1391" y1="904.5" x2="1557" y2="904.5"/>
<line class="ag" x1="878" y1="909" x2="878" y2="996" marker-end="url(#mg)"/>
<line class="ar" x1="1016.6" y1="909" x2="1016.6" y2="996" marker-end="url(#mr)"/>
<line class="ao" x1="1175.6" y1="909" x2="1175.6" y2="996" marker-end="url(#mo)"/>
<line class="ag" x1="1303.5" y1="908" x2="1303.5" y2="996" marker-end="url(#mg)"/>
<line class="ap" x1="1431.7" y1="906" x2="1431.7" y2="998" marker-end="url(#mp)"/>
<line class="ul" x1="866" y1="1010.5" x2="891.5" y2="1010.5"/>
<line class="ul" x1="1012" y1="1010.5" x2="1033" y2="1010.5"/>
<line class="ul" x1="1164" y1="1010.5" x2="1189" y2="1010.5"/>
<line class="ul" x1="1296.6" y1="1010.5" x2="1324" y2="1010.5"/>

<line class="ul" x1="835" y1="1250" x2="958.5" y2="1250"/>
<line class="ul" x1="1003.5" y1="1250" x2="1024" y2="1250"/>
<line class="ul" x1="1169" y1="1250" x2="1181" y2="1250"/>
<line class="ul" x1="1203" y1="1250" x2="1322" y2="1250"/>
<line class="ul" x1="1325" y1="1250" x2="1344" y2="1250"/>
<line class="ul" x1="1389" y1="1247.6" x2="1555" y2="1247.6"/>
<line class="ag" x1="875.4" y1="1252" x2="875.4" y2="1342.5" marker-end="url(#mg)"/>
<line class="ar" x1="1014" y1="1252" x2="1014" y2="1342.5" marker-end="url(#mr)"/>
<line class="ao" x1="1173" y1="1252" x2="1173" y2="1342.5" marker-end="url(#mo)"/>
<line class="ag" x1="1301" y1="1252" x2="1301" y2="1342.5" marker-end="url(#mg)"/>
<line class="ar" x1="1332.7" y1="1252" x2="1332.7" y2="1342.5" marker-end="url(#mr)"/>
<line class="ap" x1="1430" y1="1249" x2="1430" y2="1346" marker-end="url(#mp)"/>
<line class="ul" x1="863" y1="1354" x2="889" y2="1354"/>
<line class="ul" x1="1009" y1="1354" x2="1031" y2="1354"/>
<line class="ul" x1="1161" y1="1354" x2="1187" y2="1354"/>
<line class="ul" x1="1294" y1="1354" x2="1322" y2="1354"/>
<line class="ul" x1="1326" y1="1354" x2="1338" y2="1354"/>
</g>
</g>
</svg>
